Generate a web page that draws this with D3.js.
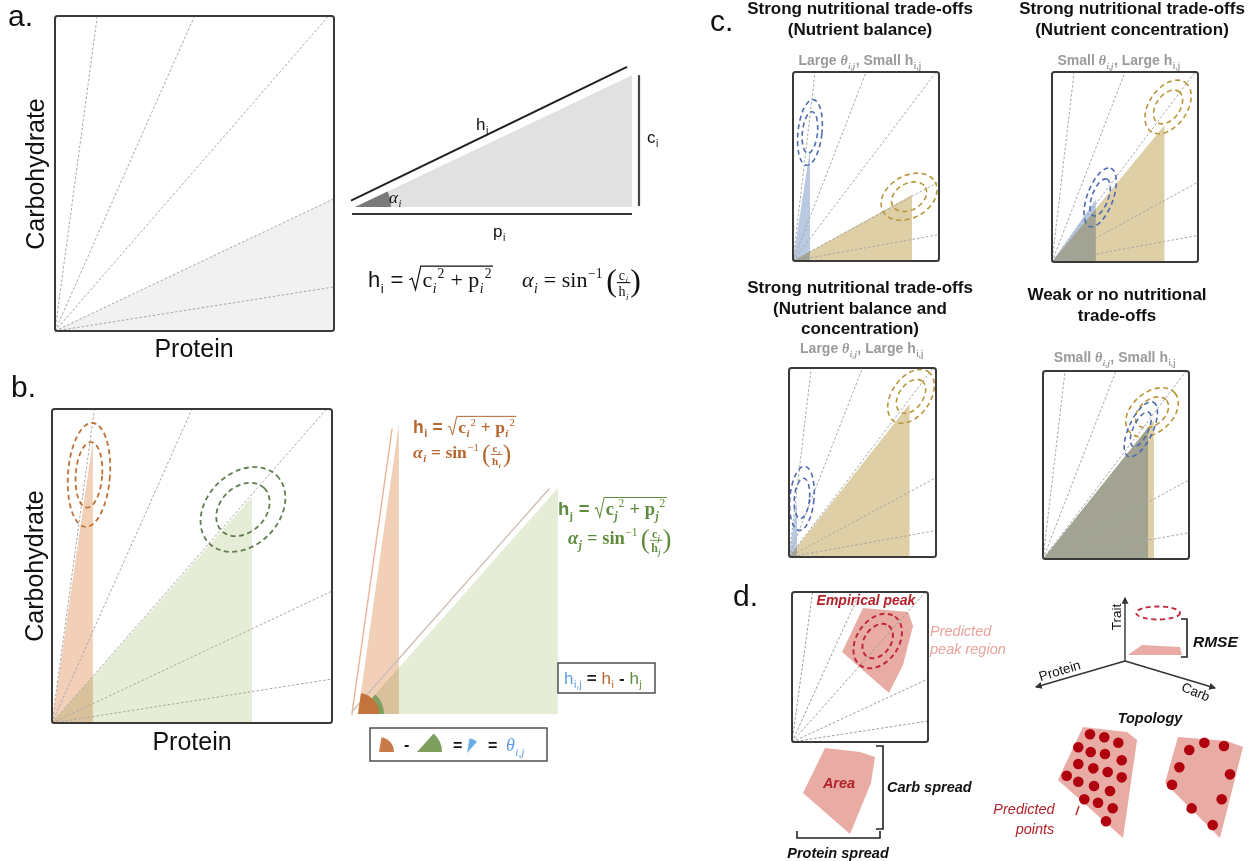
<!DOCTYPE html>
<html><head><meta charset="utf-8">
<script src="https://cdn.jsdelivr.net/npm/d3@7"></script>
<style>body{margin:0;background:#fff} text{font-family:"Liberation Sans",Arial,sans-serif}</style>
</head><body><svg id="fig" width="1251" height="861"></svg>
<script>
var SANS = '"Liberation Sans", Arial, sans-serif';
var SERIF = '"Liberation Serif", "DejaVu Serif", serif';

// carb:protein ratios of the dotted rails, shared by every nutrient space
var raySlopes = [6.6, 2.0, 1.02, 0.42, 0.14];

// panel a
var shadeA = [[0, 0], [1, 0.42], [1, 0]];
var triangleA = [1, 0.476]; // [p, c]

// panel b: peaks i and j (protein, carb)
var peakI = [0.146, 0.90];
var peakJ = [0.714, 0.72];
// ellipses: [cx, cy, rx, ry, rotation], radii in units of box width
var ellipseI = [0.132, 0.79, 0.075, 0.186, 4];
var ellipseJ = [0.682, 0.68, 0.171, 0.129, -45];
var innerScale = 0.63;

// panel c
var cTitles = [
  ["Strong nutritional trade-offs", "(Nutrient balance)"],
  ["Strong nutritional trade-offs", "(Nutrient concentration)"],
  ["Strong nutritional trade-offs", "(Nutrient balance and", "concentration)"],
  ["Weak or no nutritional", "trade-offs"]
];
var cThetaSize = ["Large", "Small", "Large", "Small"];
var cHSize = ["Small", "Large", "Large", "Small"];
var cBluePeaks = [[0.116, 0.59], [0.30, 0.33], [0.054, 0.30], [0.72, 0.70]];
var cTanPeaks = [[0.815, 0.35], [0.77, 0.72], [0.82, 0.81], [0.76, 0.74]];
var cBlueEllipses = [[0.116, 0.68, 0.082, 0.226, 6], [0.33, 0.34, 0.212, 0.089, -70],
                     [0.088, 0.31, 0.082, 0.219, 5], [0.67, 0.69, 0.205, 0.082, -65]];
var cTanEllipses = [[0.795, 0.34, 0.205, 0.144, -30], [0.795, 0.816, 0.205, 0.13, -55],
                    [0.83, 0.85, 0.205, 0.13, -55], [0.747, 0.78, 0.205, 0.137, -40]];

// panel d
var regionPoly = [[0.522, 0.893], [0.853, 0.867], [0.89, 0.773], [0.816, 0.513], [0.713, 0.327], [0.368, 0.6]];
var empiricalEllipse = [0.63, 0.673, 0.22, 0.154, -55];
var areaPoly = [[0.3125, 0.978], [0.75, 0.933], [0.9375, 0.878], [0.8875, 0.589], [0.625, 0.022], [0.0375, 0.478]];
var topoPolyA = [[0.329, 0.983], [0.847, 0.939], [0.965, 0.870], [0.8, 0.017], [0.035, 0.522]];
var topoPolyB = [[0.188, 0.896], [0.765, 0.861], [0.953, 0.809], [0.682, 0.017], [0.035, 0.496]];
var topoDotsA = [[0.412, 0.919], [0.580, 0.893], [0.745, 0.846], [0.274, 0.806], [0.420, 0.765], [0.588, 0.748],
  [0.785, 0.693], [0.274, 0.661], [0.451, 0.623], [0.620, 0.591], [0.785, 0.545], [0.138, 0.559], [0.274, 0.507],
  [0.459, 0.470], [0.647, 0.426], [0.345, 0.354], [0.506, 0.324], [0.679, 0.276], [0.6, 0.163]];
var topoDotsB = [[0.321, 0.783], [0.498, 0.846], [0.729, 0.817], [0.204, 0.632], [0.8, 0.571], [0.118, 0.481],
  [0.702, 0.354], [0.349, 0.275], [0.596, 0.130]];

var ORANGE = "#b8662f", GREEN = "#5e8c3c", BLUE = "#5b9fe0", RED = "#b3222a";

var svg = d3.select("#fig");
var defs = svg.append("defs");
defs.append("marker").attr("id", "arr").attr("viewBox", "0 0 6 6").attr("refX", 5).attr("refY", 3)
  .attr("markerWidth", 5).attr("markerHeight", 5).attr("orient", "auto")
  .append("path").attr("d", "M0,0 L6,3 L0,6 Z").attr("fill", "#333");

function rayEnd(s) { return s >= 1 ? [1 / s, 1] : [1, s]; }

function space(box) {
  return {
    x: d3.scaleLinear().domain([0, 1]).range([box[0], box[0] + box[2]]),
    y: d3.scaleLinear().domain([0, 1]).range([box[1] + box[3], box[1]]),
    w: box[2], box: box
  };
}
function polyPath(sc) {
  return function(d) { return d3.line().x(function(p) { return sc.x(p[0]); }).y(function(p) { return sc.y(p[1]); })(d) + "Z"; };
}
function drawRays(g, sc, color) {
  g.selectAll(null).data(raySlopes).enter().append("line")
    .attr("x1", sc.x(0)).attr("y1", sc.y(0))
    .attr("x2", function(d) { return sc.x(rayEnd(d)[0]); })
    .attr("y2", function(d) { return sc.y(rayEnd(d)[1]); })
    .attr("stroke", color || "#a6a6a6").attr("stroke-width", 1).attr("stroke-dasharray", "2.5,2");
}
function drawFrame(g, sc, sw) {
  var b = sc.box;
  g.append("rect").attr("x", b[0]).attr("y", b[1]).attr("width", b[2]).attr("height", b[3])
    .attr("rx", 2.5).attr("fill", "none").attr("stroke", "#3a3a3a").attr("stroke-width", sw || 2);
}
function drawTri(g, sc, peak, fill, blend) {
  g.append("path").datum([[0, 0], peak, [peak[0], 0]]).attr("d", polyPath(sc))
    .attr("fill", fill).style("mix-blend-mode", blend ? "multiply" : null);
}
function drawEllipses(g, sc, e, color, sw) {
  [1, innerScale].forEach(function(k) {
    g.append("ellipse").attr("rx", e[2] * sc.w * k).attr("ry", e[3] * sc.w * k)
      .attr("transform", "translate(" + sc.x(e[0]) + "," + sc.y(e[1]) + ") rotate(" + e[4] + ")")
      .attr("fill", "none").attr("stroke", color).attr("stroke-width", sw || 1.8).attr("stroke-dasharray", "5,3.5");
  });
}

// tiny math typesetter
function layoutToks(g, x, y, toks, size, color) {
  var cx = x;
  toks.forEach(function(tk) {
    var kind = tk[0];
    if (kind === "t") {
      var o = tk[2] || {};
      var col = o.color || color;
      var t = g.append("text").attr("x", cx).attr("y", y).attr("font-size", size).attr("fill", col)
        .style("font-family", o.serif ? SERIF : SANS).style("font-style", o.it ? "italic" : "normal")
        .style("font-weight", o.bold ? "bold" : "normal").style("white-space", "pre").text(tk[1]);
      cx += t.node().getComputedTextLength();
      var extra = 0;
      if (o.sub) {
        var s = g.append("text").attr("x", cx + 0.5).attr("y", y + size * 0.25).attr("font-size", size * 0.62).attr("fill", col)
          .style("font-family", o.serif ? SERIF : SANS).style("font-style", o.subIt ? "italic" : "normal")
          .style("font-weight", o.bold ? "bold" : "normal").text(o.sub);
        extra = s.node().getComputedTextLength() + 1;
      }
      if (o.sup) {
        var u = g.append("text").attr("x", cx + 0.5 + (o.sub ? extra : 0)).attr("y", y - size * 0.42).attr("font-size", size * 0.62).attr("fill", col)
          .style("font-family", o.serif ? SERIF : SANS).text(o.sup);
        extra = (o.sub ? extra : 0) + u.node().getComputedTextLength() + 1;
      }
      cx += extra;
    } else if (kind === "sp") {
      cx += tk[1] * size;
    } else if (kind === "sqrt") {
      var x0 = cx, lead = size * 0.6;
      var inner = layoutToks(g, cx + lead, y, tk[1], size, color);
      var top = y - size * 0.95, x1 = cx + lead + inner + 1;
      g.append("path").attr("d", "M" + x0 + "," + (y - size * 0.33) + " L" + (x0 + size * 0.12) + "," + (y - size * 0.4) +
        " L" + (x0 + size * 0.28) + "," + (y + size * 0.12) + " L" + (x0 + size * 0.52) + "," + top + " L" + x1 + "," + top)
        .attr("fill", "none").attr("stroke", color).attr("stroke-width", Math.max(1, size * 0.055));
      cx = x1;
    } else if (kind === "frac") {
      var fs = size * 0.64;
      var gn = g.append("g"), gd = g.append("g");
      var wn = layoutToks(gn, 0, y - size * 0.32, tk[1], fs, color);
      var wd = layoutToks(gd, 0, y + size * 0.42, tk[2], fs, color);
      var wf = Math.max(wn, wd) + 3;
      gn.attr("transform", "translate(" + (cx + (wf - wn) / 2) + ",0)");
      gd.attr("transform", "translate(" + (cx + (wf - wd) / 2) + ",0)");
      g.append("line").attr("x1", cx).attr("x2", cx + wf).attr("y1", y - size * 0.2).attr("y2", y - size * 0.2)
        .attr("stroke", color).attr("stroke-width", Math.max(0.8, size * 0.05));
      cx += wf;
    } else if (kind === "p") {
      var pt = g.append("text").attr("x", cx).attr("y", y + size * 0.2).attr("font-size", size * 1.45).attr("fill", color)
        .style("font-family", SERIF).text(tk[1]);
      cx += pt.node().getComputedTextLength();
    }
  });
  return cx - x;
}
function mathLine(g, x, y, toks, size, color, anchor) {
  var grp = g.append("g");
  var w = layoutToks(grp, 0, 0, toks, size, color);
  grp.attr("transform", "translate(" + (anchor === "middle" ? x - w / 2 : x) + "," + y + ")");
  return w;
}
function hForm(ix, extra) {
  return [["t", "h", Object.assign({sub: ix}, extra)], ["t", " = ", extra],
    ["sqrt", [["t", "c", Object.assign({serif: 1, sub: ix, sup: "2", subIt: 1}, extra)], ["t", " + ", Object.assign({serif: 1}, extra)],
              ["t", "p", Object.assign({serif: 1, sub: ix, sup: "2", subIt: 1}, extra)]]]];
}
function aForm(ix, extra) {
  return [["t", "α", Object.assign({serif: 1, it: 1, sub: ix, subIt: 1}, extra)], ["t", " = sin", Object.assign({serif: 1, sup: "−1"}, extra)],
    ["sp", 0.15], ["p", "("],
    ["frac", [["t", "c", {serif: 1, sub: ix, subIt: 1, bold: extra.bold}]], [["t", "h", {serif: 1, sub: ix, subIt: 1, bold: extra.bold}]]],
    ["p", ")"]];
}
function label(g, x, y, s, size, opts) {
  opts = opts || {};
  return g.append("text").attr("x", x).attr("y", y).attr("font-size", size)
    .attr("text-anchor", opts.anchor || "start").attr("fill", opts.color || "#111")
    .style("font-weight", opts.bold ? "bold" : "normal").style("font-style", opts.it ? "italic" : "normal")
    .attr("transform", opts.rot != null ? "rotate(" + opts.rot + "," + x + "," + y + ")" : null).text(s);
}

// ---------------- panel a ----------------
var gA = svg.append("g");
var sA = space([55, 16, 279, 315]);
gA.append("path").datum(shadeA).attr("d", polyPath(sA)).attr("fill", "#f1f1f1");
drawRays(gA, sA);
drawFrame(gA, sA);
label(gA, 8, 26, "a.", 30);
label(gA, 44, 174, "Carbohydrate", 25, {anchor: "middle", rot: -90});
label(gA, 194, 357, "Protein", 25, {anchor: "middle"});

// right-angled triangle
var tx = d3.scaleLinear().domain([0, 1]).range([355, 632]);
var ty = d3.scaleLinear().domain([0, 1]).range([207, -70]);
var tp = [tx(triangleA[0]), ty(triangleA[1])];
gA.append("path").attr("d", "M" + tx(0) + "," + ty(0) + "L" + tp[0] + "," + tp[1] + "L" + tp[0] + "," + ty(0) + "Z").attr("fill", "#e1e1e1");
var angA = Math.atan2(ty(0) - tp[1], tp[0] - tx(0));
gA.append("path").attr("d", d3.arc().innerRadius(0).outerRadius(36).startAngle(Math.PI / 2 - angA).endAngle(Math.PI / 2))
  .attr("transform", "translate(" + tx(0) + "," + ty(0) + ")").attr("fill", "#7a7a7a");
var nx = -Math.sin(angA) * 7, ny = -Math.cos(angA) * 7;
gA.append("line").attr("x1", tx(0) + nx - 1).attr("y1", ty(0) + ny).attr("x2", tp[0] + nx - 2).attr("y2", tp[1] + ny - 2)
  .attr("stroke", "#222").attr("stroke-width", 2);
gA.append("line").attr("x1", tp[0] + 7).attr("x2", tp[0] + 7).attr("y1", tp[1]).attr("y2", ty(0) - 1).attr("stroke", "#444").attr("stroke-width", 2.2);
gA.append("line").attr("x1", tx(0) - 3).attr("x2", tp[0]).attr("y1", ty(0) + 7).attr("y2", ty(0) + 7).attr("stroke", "#333").attr("stroke-width", 2.2);
mathLine(gA, 476, 130, [["t", "h", {sub: "i"}]], 17, "#111");
mathLine(gA, 647, 143, [["t", "c", {sub: "i"}]], 17, "#111");
mathLine(gA, 493, 237, [["t", "p", {sub: "i"}]], 17, "#111");
mathLine(gA, 389, 203, [["t", "α", {serif: 1, it: 1, sub: "i", subIt: 1}]], 17, "#111");
mathLine(gA, 368, 287, hForm("i", {}), 22, "#111");
mathLine(gA, 522, 287, aForm("i", {}), 22, "#111");

// ---------------- panel b ----------------
var gB = svg.append("g");
var sB = space([52, 409, 280, 314]);
drawTri(gB, sB, peakJ, "#e5edd7");
drawTri(gB, sB, peakI, "#f2d0b8", true);
drawRays(gB, sB);
drawEllipses(gB, sB, ellipseI, "#c0713a");
drawEllipses(gB, sB, ellipseJ, "#627e4c");
drawFrame(gB, sB);
label(gB, 11, 397, "b.", 30);
label(gB, 43, 566, "Carbohydrate", 25, {anchor: "middle", rot: -90});
label(gB, 192, 750, "Protein", 25, {anchor: "middle"});

// decomposed triangles
var sB2 = space([358, 400, 280, 314]);
drawTri(gB, sB2, peakJ, "#e5edd7");
drawTri(gB, sB2, [peakI[0], 0.925], "#f2d0b8", true);
[[peakI[0], 0.925, "#e9b596"], [peakJ[0], peakJ[1], "#cdbfb4"]].forEach(function(p) {
  var x1 = sB2.x(p[0]), y1 = sB2.y(p[1]), x0 = sB2.x(0), y0 = sB2.y(0);
  var L = Math.hypot(x1 - x0, y1 - y0), ux = (x1 - x0) / L, uy = (y1 - y0) / L;
  var ox = uy * 6, oy = -ux * 6;
  gB.append("line").attr("x1", x0 + ox - ux * 2).attr("y1", y0 + oy - uy * 2).attr("x2", x1 + ox - ux * 6).attr("y2", y1 + oy - uy * 6)
    .attr("stroke", p[2]).attr("stroke-width", 1.4);
});
function angOf(sc, p) { return Math.atan2(sc.y(0) - sc.y(p[1]), sc.x(p[0]) - sc.x(0)); }
var aI = angOf(sB2, [peakI[0], 0.925]), aJ = angOf(sB2, peakJ);
gB.append("path").attr("d", d3.arc().innerRadius(0).outerRadius(26).startAngle(Math.PI / 2 - aJ).endAngle(Math.PI / 2))
  .attr("transform", "translate(" + sB2.x(0) + "," + sB2.y(0) + ")").attr("fill", "#7f9f5e");
gB.append("path").attr("d", d3.arc().innerRadius(0).outerRadius(21).startAngle(Math.PI / 2 - aI).endAngle(Math.PI / 2))
  .attr("transform", "translate(" + sB2.x(0) + "," + sB2.y(0) + ")").attr("fill", "#c3743d");
mathLine(gB, 413, 433, hForm("i", {color: ORANGE, bold: 1}), 17.5, ORANGE);
mathLine(gB, 413, 458, aForm("i", {color: ORANGE, bold: 1}), 17.5, ORANGE);
mathLine(gB, 558, 515, hForm("j", {color: GREEN, bold: 1}), 18.5, GREEN);
mathLine(gB, 568, 544, aForm("j", {color: GREEN, bold: 1}), 18.5, GREEN);

gB.append("rect").attr("x", 558).attr("y", 663).attr("width", 97).attr("height", 30).attr("fill", "#fff").attr("stroke", "#444").attr("stroke-width", 1.4);
mathLine(gB, 564, 684, [["t", "h", {sub: "i,j", color: BLUE}], ["t", " = ", {bold: 1, color: "#222"}], ["t", "h", {sub: "i", color: ORANGE}],
  ["t", " - ", {bold: 1, color: "#222"}], ["t", "h", {sub: "j", color: GREEN}]], 17, "#222");

gB.append("rect").attr("x", 370).attr("y", 728).attr("width", 177).attr("height", 33).attr("fill", "#fff").attr("stroke", "#444").attr("stroke-width", 1.4);
gB.append("path").attr("d", d3.arc().innerRadius(0).outerRadius(15).startAngle(Math.PI / 2 - 1.4).endAngle(Math.PI / 2))
  .attr("transform", "translate(379,752)").attr("fill", "#c87a47");
gB.append("path").attr("d", d3.arc().innerRadius(0).outerRadius(25).startAngle(Math.PI / 2 - 0.84).endAngle(Math.PI / 2))
  .attr("transform", "translate(417,752)").attr("fill", "#7f9f5e");
gB.append("path").attr("d", d3.arc().innerRadius(0).outerRadius(15).startAngle(Math.PI / 2 - 1.4).endAngle(Math.PI / 2 - 0.84))
  .attr("transform", "translate(467,753)").attr("fill", "#6aaee8");
label(gB, 404, 750, "-", 16, {bold: 1});
label(gB, 453, 751, "=", 16, {bold: 1});
label(gB, 488, 751, "=", 16, {bold: 1});
mathLine(gB, 506, 751, [["t", "θ", {serif: 1, it: 1, sub: "i,j", subIt: 1}]], 18, BLUE);

// ---------------- panel c ----------------
var gC = svg.append("g");
label(gC, 710, 31, "c.", 30);
var cBoxes = [[793, 72, 146, 189], [1052, 72, 146, 190], [789, 368, 147, 189], [1043, 371, 146, 188]];
var cTitleX = [860, 1132, 860, 1117];
var cTitleY = [14, 14, 293, 300];
var cSubY = [65, 65, 353, 362];
var cSubX = [860, 1119, 862, 1115];
cBoxes.forEach(function(b, i) {
  var sc = space(b);
  drawTri(gC, sc, cTanPeaks[i], "#dfcfa6");
  drawTri(gC, sc, cBluePeaks[i], "#b9c9e2", true);
  drawRays(gC, sc);
  drawEllipses(gC, sc, cTanEllipses[i], "#b89638", 1.6);
  drawEllipses(gC, sc, cBlueEllipses[i], "#4d6db0", 1.6);
  drawFrame(gC, sc, 2);
  cTitles[i].forEach(function(line, k) {
    label(gC, cTitleX[i], cTitleY[i] + k * 20.5, line, 17, {anchor: "middle", bold: 1});
  });
  mathLine(gC, cSubX[i], cSubY[i], [["t", cThetaSize[i] + " ", {bold: 1}], ["t", "θ", {serif: 1, it: 1, bold: 1, sub: "i,j", subIt: 1}],
    ["t", ", " + cHSize[i] + " h", {bold: 1, sub: "i,j"}]], 14, "#9a9a9a", "middle");
});

// ---------------- panel d ----------------
var gD = svg.append("g");
label(gD, 733, 606, "d.", 30);
var sD = space([792, 592, 136, 150]);
gD.append("path").datum(regionPoly).attr("d", polyPath(sD)).attr("fill", "#e8aca5");
drawRays(gD, sD, "#9a9a9a");
drawEllipses(gD, sD, empiricalEllipse, "#c0283a", 2);
drawFrame(gD, sD, 2);
label(gD, 866, 605, "Empirical peak", 14, {anchor: "middle", bold: 1, it: 1, color: RED});
label(gD, 930, 636, "Predicted", 14.5, {it: 1, color: "#e8a19b"});
label(gD, 930, 654, "peak region", 14.5, {it: 1, color: "#e8a19b"});

var sArea = {x: d3.scaleLinear().domain([0, 1]).range([800, 880]), y: d3.scaleLinear().domain([0, 1]).range([836, 746])};
gD.append("path").datum(areaPoly).attr("d", polyPath(sArea)).attr("fill", "#e8aca5");
label(gD, 839, 788, "Area", 14.5, {anchor: "middle", bold: 1, it: 1, color: RED});
gD.append("path").attr("d", "M876,746 H883 V829 H876").attr("fill", "none").attr("stroke", "#222").attr("stroke-width", 1.6);
label(gD, 887, 792, "Carb spread", 14.5, {bold: 1, it: 1});
gD.append("path").attr("d", "M797,831 V838 H880 V831").attr("fill", "none").attr("stroke", "#222").attr("stroke-width", 1.6);
label(gD, 838, 858, "Protein spread", 14.5, {anchor: "middle", bold: 1, it: 1});

// 3D axes
var o3 = [1125, 661];
[[1125, 598], [1036, 687], [1215, 688]].forEach(function(p) {
  gD.append("line").attr("x1", o3[0]).attr("y1", o3[1]).attr("x2", p[0]).attr("y2", p[1])
    .attr("stroke", "#333").attr("stroke-width", 1.4).attr("marker-end", "url(#arr)");
});
label(gD, 1121, 617, "Trait", 13.5, {anchor: "middle", rot: -90});
label(gD, 1061, 675, "Protein", 13.5, {anchor: "middle", rot: -17});
label(gD, 1194, 696, "Carb", 13.5, {anchor: "middle", rot: 22});
gD.append("path").attr("d", "M1128,655 L1142,645 L1180,647 L1182,655 Z").attr("fill", "#e8aca5");
gD.append("ellipse").attr("cx", 1158).attr("cy", 613).attr("rx", 22).attr("ry", 6.5).attr("fill", "none")
  .attr("stroke", "#c0283a").attr("stroke-width", 1.8).attr("stroke-dasharray", "5,3.5");
gD.append("path").attr("d", "M1181,619 H1187 V657 H1181").attr("fill", "none").attr("stroke", "#222").attr("stroke-width", 1.6);
label(gD, 1193, 647, "RMSE", 15.5, {bold: 1, it: 1});

// topology
label(gD, 1150, 723, "Topology", 14.5, {anchor: "middle", bold: 1, it: 1});
[[topoPolyA, topoDotsA, 1055], [topoPolyB, topoDotsB, 1162]].forEach(function(t) {
  var sc = {x: d3.scaleLinear().domain([0, 1]).range([t[2], t[2] + 85]), y: d3.scaleLinear().domain([0, 1]).range([840, 725])};
  gD.append("path").datum(t[0]).attr("d", polyPath(sc)).attr("fill", "#e8aca5");
  gD.selectAll(null).data(t[1]).enter().append("circle")
    .attr("cx", function(d) { return sc.x(d[0]); }).attr("cy", function(d) { return sc.y(d[1]); })
    .attr("r", 5.3).attr("fill", "#b0000e");
});
label(gD, 1024, 814, "Predicted", 14.5, {anchor: "middle", it: 1, color: RED});
label(gD, 1035, 834, "points", 14.5, {anchor: "middle", it: 1, color: RED});
gD.append("line").attr("x1", 1079).attr("y1", 806).attr("x2", 1076).attr("y2", 815).attr("stroke", RED).attr("stroke-width", 1.4);
</script></body></html>
